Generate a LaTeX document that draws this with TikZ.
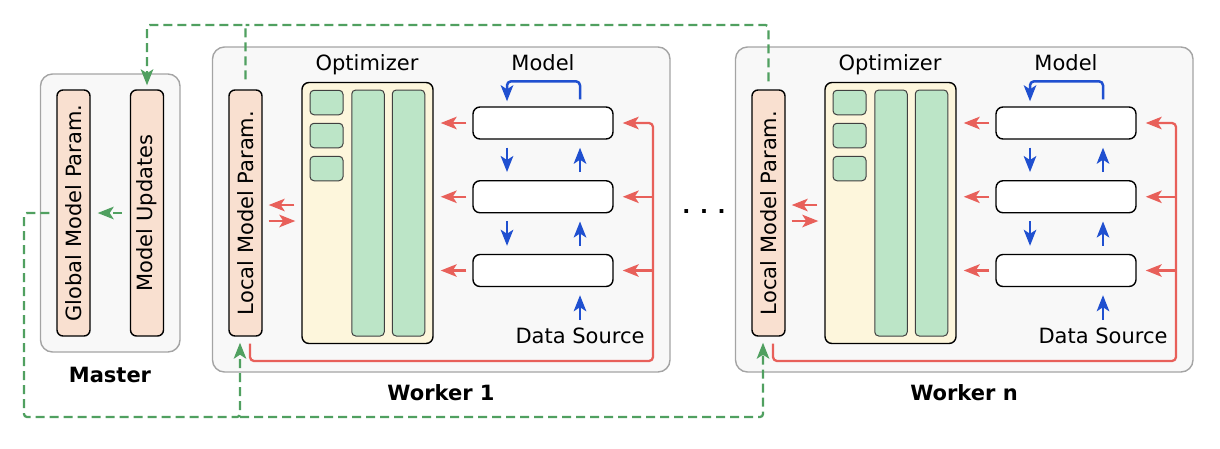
\documentclass[tikz,border=0pt]{standalone}
\usepackage{fontspec}
\setmainfont{DejaVu Sans}
\usetikzlibrary{arrows.meta}
\definecolor{boxfill}{HTML}{F8F8F8}
\definecolor{boxline}{HTML}{A4A4A4}
\definecolor{peach}{HTML}{F9E0D0}
\definecolor{cellgreen}{HTML}{BCE5C7}
\definecolor{optyellow}{HTML}{FDF6DC}
\definecolor{syncgreen}{HTML}{50A060}
\definecolor{gradred}{HTML}{E8605A}
\definecolor{flowblue}{HTML}{2050D0}
\begin{document}
\begin{tikzpicture}[x=1pt, y=-1pt, font=\fontsize{21}{25}\selectfont, line join=round,
	>={Stealth[length=16pt,width=12.5pt,inset=4pt]},
	group/.style={draw=boxline, fill=boxfill, line width=1.4pt, rounded corners=12pt, inner sep=0pt},
	param/.style={draw=black, fill=peach, line width=1.4pt, rounded corners=6pt, minimum width=33, minimum height=246, inner sep=0pt},
	optbox/.style={draw=black, fill=optyellow, line width=1.4pt, rounded corners=7pt, minimum width=131, minimum height=261, inner sep=0pt},
	cell/.style={draw=black!75, fill=cellgreen, line width=1pt, rounded corners=4pt, inner sep=0pt},
	layer/.style={draw=black, fill=white, line width=1.4pt, rounded corners=7pt, minimum width=140, minimum height=32, inner sep=0pt},
	title/.style={font=\fontsize{21}{25}\selectfont\bfseries, anchor=base},
	sync/.style={draw=syncgreen, line width=2.3pt, dash pattern=on 9pt off 5pt, rounded corners=3pt},
	grad/.style={draw=gradred, line width=2.3pt, rounded corners=4pt},
	flow/.style={draw=flowblue, line width=2.5pt, rounded corners=4pt}]
	\useasboundingbox (0,0) rectangle (1220,448);
	\coordinate (rail) at (0,25);
	\coordinate (loop) at (24,417);
	% master
	\node[group, minimum width=139.5, minimum height=278] (master) at (110.25,213) {};
	\node[title] at (110,382) {Master};
	\node[param] (glob) at (73.5,213) {};
	\node[rotate=90] at (glob) {Global Model Param.};
	\node[param] (upd) at (147,213) {};
	\node[rotate=90] at (upd) {Model Updates};
	% workers
	\foreach \dx/\n in {0/1, 523/n} {
	\begin{scope}[xshift=\dx]
		\node[group, minimum width=457.5, minimum height=325] (w\n) at (441.25,209.5) {};
		\node[title] at (441,400) {Worker \n};
		\node[param] (w\n-local) at (245.5,213) {};
		\node[rotate=90] at (w\n-local) {Local Model Param.};
		\node[optbox] (w\n-opt) at (367.5,213) {};
		\node[anchor=base] at (367,70) {Optimizer};
		\foreach \i in {0,1,2}
		\node[cell, minimum width=33, minimum height=24.5] at (326.5,{102.5+33*\i}) {};
		\foreach \x in {368,408.5}
		\node[cell, minimum width=32.5, minimum height=246] at (\x,213) {};
		\foreach \i/\y in {1/123, 2/196.75, 3/270.5}
		\node[layer] (w\n-m\i) at (543,\y) {};
		\node[anchor=base] at (543,70) {Model};
		\node[anchor=base] (w\n-src) at (580,343) {Data Source};
		\coordinate (w\n-bus) at (653,361);
		\foreach \i in {1,2,3}
		\draw[grad,->,shorten <=6pt,shorten >=7pt] (w\n-m\i.west) -- (w\n-opt.east |- w\n-m\i.west);
		\draw[grad,->,shorten >=9pt] ([xshift=4.5pt,yshift=-7pt]w\n-local.south) |- (w\n-bus) |- (w\n-m1.east);
		\foreach \i in {2,3}
		\draw[grad,->,shorten >=9pt] (w\n-bus |- w\n-m\i.east) -- (w\n-m\i.east);
		\draw[grad,->,shorten <=7pt,shorten >=6pt] ([yshift=8pt]w\n-opt.west) -- ([yshift=8pt]w\n-local.east);
		\draw[grad,->,shorten <=6pt,shorten >=6pt] ([yshift=-8pt]w\n-local.east) -- ([yshift=-8pt]w\n-opt.west);
		\draw[flow,->] ([xshift=37pt,yshift=7pt]w\n-m1.north) -- ++(0,-18) -| ([xshift=-36pt,yshift=5pt]w\n-m1.north);
		\foreach \a/\b in {1/2, 2/3} {
		\draw[flow,->,shorten <=8pt,shorten >=8pt] ([xshift=-36pt]w\n-m\a.south) -- ([xshift=-36pt]w\n-m\b.north);
		\draw[flow,->,shorten <=8pt,shorten >=8pt] ([xshift=37pt]w\n-m\b.north) -- ([xshift=37pt]w\n-m\a.south);
		}
		\draw[flow,->,shorten <=4pt,shorten >=8pt] (w\n-src.north) -- (w\n-src.north |- w\n-m3.south);
	\end{scope}
	}
	\node[title] at (704,213) {. . .};
	% parameter exchange
	\draw[sync,->,shorten <=8pt,shorten >=7pt] (upd.west) -- (glob.east);
	\draw[sync,->,shorten <=10pt,shorten >=4pt] (w1-local.north) |- (upd.north |- rail) -- (upd.north);
	\draw[sync,shorten <=8pt] (wn-local.north) |- (w1-local.north |- rail);
	\draw[sync,->,shorten <=7pt,shorten >=6pt] (glob.west) -| (loop) -| ([xshift=-5.5pt]w1-local.south);
	\draw[sync,->,shorten >=6pt] ([xshift=-5.5pt]w1-local.south |- loop) -| ([xshift=-5.5pt]wn-local.south);
\end{tikzpicture}
\end{document}
